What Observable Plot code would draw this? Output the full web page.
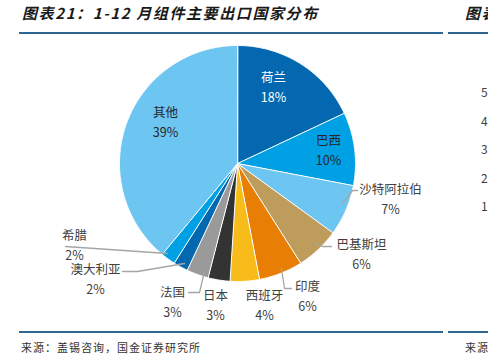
<!DOCTYPE html>
<html><head><meta charset="utf-8">
<script src="https://cdn.jsdelivr.net/npm/d3@7"></script>
<script src="https://cdn.jsdelivr.net/npm/@observablehq/plot@0.6"></script>
<style>
body{margin:0;width:488px;height:357px;overflow:hidden;background:#fff;position:relative;font-family:"Noto Sans CJK SC",sans-serif;}
.title{position:absolute;top:2px;font-size:15px;font-weight:bold;font-style:italic;color:#1a1a1a;letter-spacing:1.6px;white-space:nowrap;}
.rule{position:absolute;height:2px;background:#2F6591;}
.src{position:absolute;top:339px;font-size:11px;color:#333;letter-spacing:1px;white-space:nowrap;}
.tick{position:absolute;left:481px;font-size:12px;color:#404040;}
#chart{position:absolute;left:0;top:36px;}
</style></head><body>
<div class="title" style="left:22px">图表21：1-12 月组件主要出口国家分布</div>
<div class="title" style="left:465px">图表</div>
<div class="rule" style="left:19px;width:424px;top:32px"></div>
<div class="rule" style="left:448px;width:40px;top:32px"></div>
<div id="chart"></div>
<div class="rule" style="left:19px;width:424px;top:331px;height:1.5px"></div>
<div class="rule" style="left:448px;width:40px;top:331px;height:1.5px"></div>
<div class="src" style="left:21px">来源：盖锡咨询，国金证券研究所</div>
<div class="src" style="left:465px">来源</div>
<script>
// ---- data ----
const names = ["荷兰","巴西","沙特阿拉伯","巴基斯坦","印度","西班牙","日本","法国","澳大利亚","希腊","其他"];
const shares = [18,10,7,6,6,4,3,3,2,2,39];
const colors = ["#0468B1","#00A1E4","#6DC5F2","#BE9C5C","#E87E04","#F8BC1A","#333333","#9A9A9A","#0468B1","#00A1E4","#6DC5F2"];
const neighbourTicks = ["5","4","3","2","1"];

// ---- layout (page pixels) ----
const W = 488, H = 290, TOP = 36;
const CX = 237, CY = 163, R = 118;
const P = (px, py) => ({x: (px - CX) / R, y: (CY - py) / R});
const labelPos = {
  "荷兰":[273,85], "巴西":[328,148], "其他":[165,120], "沙特阿拉伯":[390,197],
  "巴基斯坦":[361,252], "印度":[307,294], "西班牙":[264,303], "日本":[215,303],
  "法国":[172,300], "澳大利亚":[95,277], "希腊":[74,243]
};
const labelColor = {"荷兰":"#ffffff","巴西":"#262626","其他":"#262626"};
const leaderPath = {
  "沙特阿拉伯":[[342,203],[352,190],[357,190]],
  "巴基斯坦":[[314,243],[322,246],[331,246]],
  "印度":[[281,268],[284,288],[291,288]],
  "法国":[[204,271],[199,292],[188,292]],
  "澳大利亚":[[184,263],[137,271],[122,271]],
  "希腊":[[167,253],[65,246]]
};

// ---- derived ----
const arcs = d3.pie().sort(null).value(d => d)(shares);
const slicePts = [];
arcs.forEach((p, i) => {
  slicePts.push({name: names[i], color: colors[i], x: 0, y: 0});
  const n = Math.max(2, Math.ceil((p.endAngle - p.startAngle) / 0.01));
  for (let k = 0; k <= n; k++) {
    const a = p.startAngle + (p.endAngle - p.startAngle) * k / n;
    slicePts.push({name: names[i], color: colors[i], x: Math.sin(a), y: Math.cos(a)});
  }
});
const labels = names.map((nm, i) => ({
  ...P(...labelPos[nm]), text: nm + "\n" + shares[i] + "%", fill: labelColor[nm] || "#404040"
}));
const leaders = [];
Object.entries(leaderPath).forEach(([nm, pts]) => pts.forEach(q => leaders.push({name: nm, ...P(q[0], q[1])})));

const chart = Plot.plot({
  width: W, height: H, margin: 0,
  x: {domain: [(0 - CX) / R, (W - CX) / R], axis: null},
  y: {domain: [(CY - (TOP + H)) / R, (CY - TOP) / R], axis: null},
  color: {type: "identity"},
  style: {fontFamily: "'Noto Sans CJK SC', sans-serif", background: "transparent"},
  marks: [
    Plot.line(slicePts, {x: "x", y: "y", z: "name", fill: "color", stroke: "white", strokeWidth: 1, curve: "linear-closed"}),
    Plot.line(leaders, {x: "x", y: "y", z: "name", stroke: "#A6A6A6", strokeWidth: 1.3, curve: "linear"}),
    Plot.text(labels, {x: "x", y: "y", text: "text", fill: "fill", fontSize: 12.5, lineHeight: 1.6})
  ]
});
document.getElementById("chart").appendChild(chart);

neighbourTicks.forEach((t, i) => {
  const d = document.createElement("div");
  d.className = "tick"; d.textContent = t;
  d.style.top = (83 + i * 28.5) + "px";
  document.body.appendChild(d);
});
</script>
</body></html>
